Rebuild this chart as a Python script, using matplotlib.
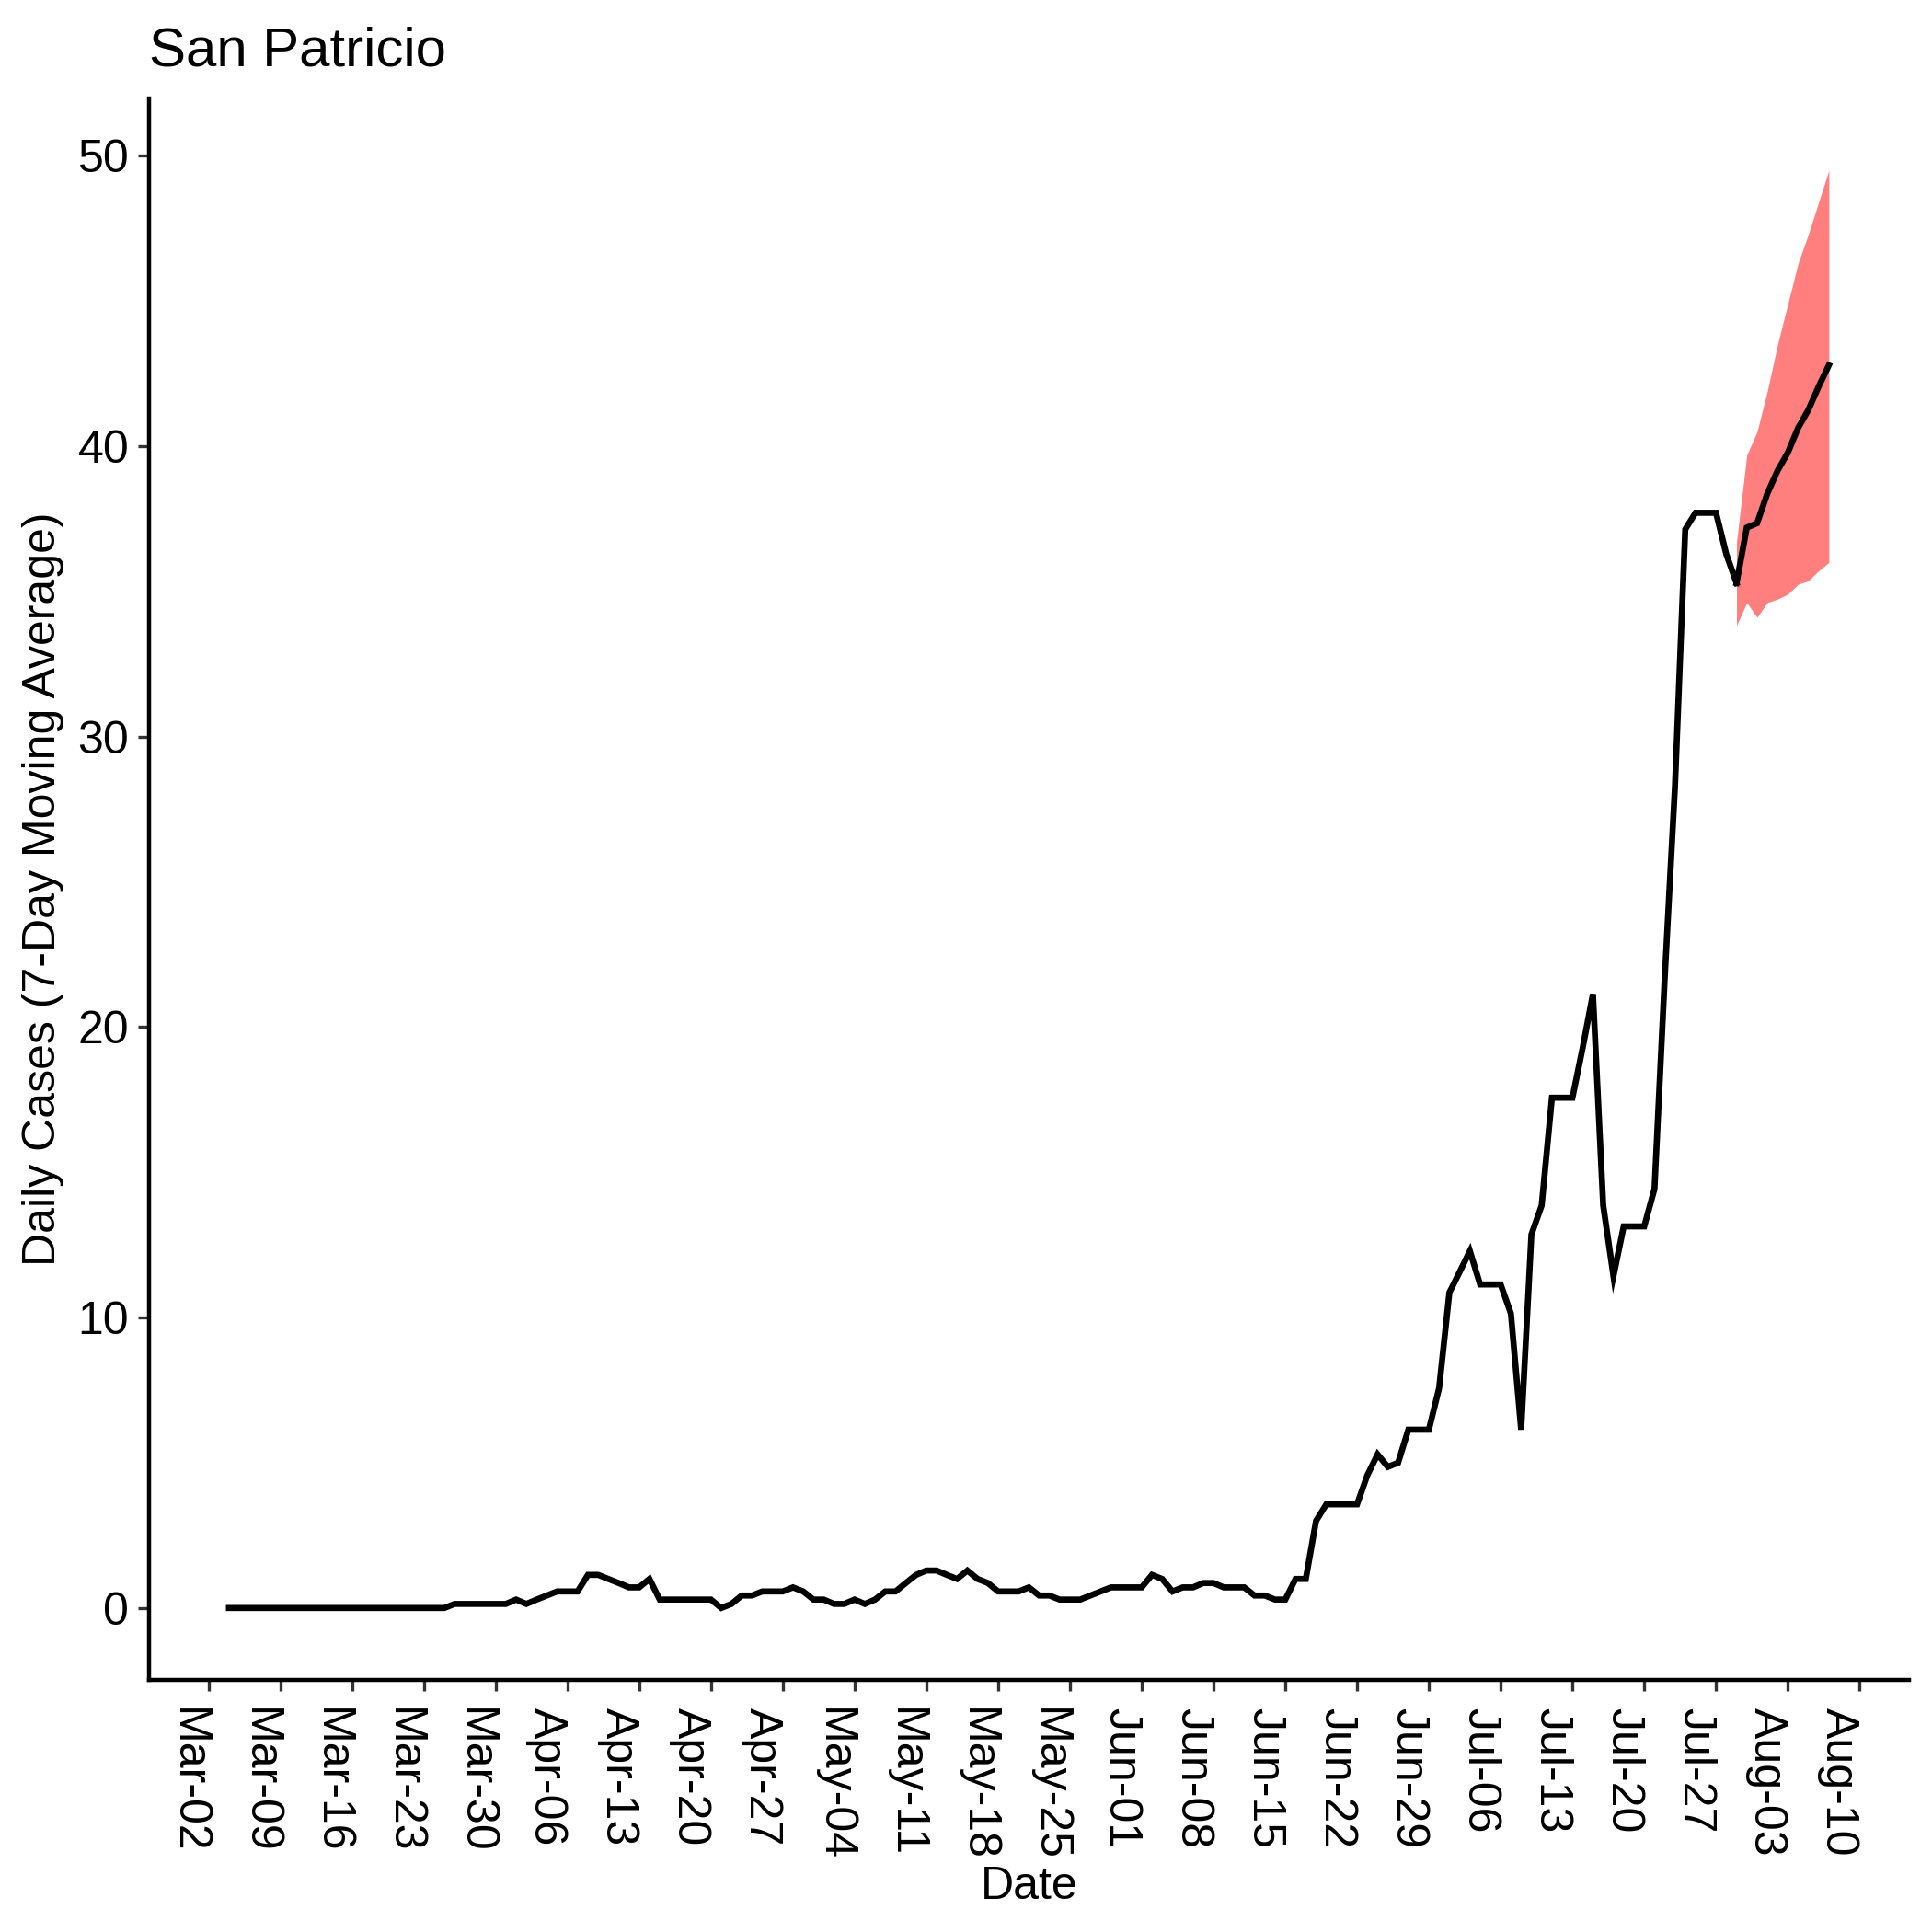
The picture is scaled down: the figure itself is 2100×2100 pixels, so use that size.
import matplotlib
matplotlib.use('Agg')
import matplotlib.pyplot as plt
import matplotlib.dates as mdates
import pandas as pd

plt.rcParams['font.family'] = ['Liberation Sans', 'DejaVu Sans']

# casos diarios (media movel de 7 dias), a partir de 04-mar
cases = [0, 0, 0, 0, 0, 0, 0, 0, 0, 0, 0, 0, 0, 0, 0, 0, 0, 0, 0, 0, 0, 0,
         0.14, 0.14, 0.14, 0.14, 0.14, 0.14, 0.29, 0.14, 0.29, 0.43,
         0.57, 0.57, 0.57, 1.14, 1.14, 1.0, 0.86, 0.71, 0.71, 1.0,
         0.29, 0.29, 0.29, 0.29, 0.29, 0.29, 0.0, 0.14, 0.43, 0.43,
         0.57, 0.57, 0.57, 0.71, 0.57, 0.29, 0.29, 0.14, 0.14, 0.29,
         0.14, 0.29, 0.57, 0.57, 0.86, 1.14, 1.29, 1.29, 1.14, 1.0,
         1.29, 1.0, 0.86, 0.57, 0.57, 0.57, 0.71, 0.43, 0.43, 0.29,
         0.29, 0.29, 0.43, 0.57, 0.71, 0.71, 0.71, 0.71, 1.14, 1.0,
         0.57, 0.71, 0.71, 0.86, 0.86, 0.71, 0.71, 0.71, 0.43, 0.43,
         0.29, 0.29, 1.0, 1.0, 3.0, 3.57, 3.57, 3.57, 3.57, 4.57,
         5.29, 4.86, 5.0, 6.14, 6.14, 6.14, 7.57, 10.86, 11.57, 12.29,
         11.14, 11.14, 11.14, 10.14, 6.14, 12.86, 13.86, 17.57, 17.57, 17.57,
         19.29, 21.14, 13.86, 11.43, 13.14, 13.14, 13.14, 14.43, 21.7, 28.3,
         37.14, 37.71, 37.71, 37.71, 36.29, 35.29]

# previsao a partir de 29-jul
fc_mean = [35.29, 37.2, 37.35, 38.37, 39.16, 39.78, 40.63, 41.25, 42.05, 42.79]
fc_low = [33.83, 34.62, 34.11, 34.62, 34.74, 34.91, 35.25, 35.37, 35.71, 36.0]
fc_high = [36.7, 39.7, 40.5, 41.9, 43.5, 44.9, 46.3, 47.3, 48.4, 49.5]

dates = pd.date_range('2020-03-04', periods=len(cases), freq='D')
fc_dates = pd.date_range(dates[-1], periods=len(fc_mean), freq='D')
tick_dates = pd.date_range('2020-03-02', '2020-08-10', freq='7D')

fig = plt.figure(figsize=(7, 7), dpi=300)
ax = fig.add_axes([0.0771, 0.1305, 0.9109, 0.8185])

ax.fill_between(fc_dates, fc_low, fc_high, color='#FF7F7F', linewidth=0)
ax.plot(dates, cases, color='black', linewidth=1.6, solid_joinstyle='miter')
ax.plot(fc_dates, fc_mean, color='black', linewidth=1.6, solid_joinstyle='miter')

# expansao de 5% como no ggplot
x0 = mdates.date2num(dates[0])
x1 = mdates.date2num(fc_dates[-1])
ax.set_xlim(x0 - 0.05 * (x1 - x0), x1 + 0.05 * (x1 - x0))
y0 = min(min(cases), min(fc_low))
y1 = max(max(cases), max(fc_high))
ax.set_ylim(y0 - 0.05 * (y1 - y0), y1 + 0.05 * (y1 - y0))

ax.set_xticks(tick_dates)
ax.set_xticklabels([d.strftime('%b-%d') for d in tick_dates],
                   rotation=270, ha='right', va='top', rotation_mode='default')
ax.set_yticks([0, 10, 20, 30, 40, 50])

for s in ['top', 'right']:
    ax.spines[s].set_visible(False)
for s in ['left', 'bottom']:
    ax.spines[s].set_linewidth(1.07)
    ax.spines[s].set_color('black')

ax.tick_params(axis='both', length=2.8, width=0.8, color='#333333',
               labelsize=12, labelcolor='black')
ax.tick_params(axis='x', pad=4.5)
ax.tick_params(axis='y', pad=2.4)

ax.set_xlabel('Date', fontsize=12, labelpad=1.2)
ax.set_ylabel('Daily Cases (7-Day Moving Average)', fontsize=12, labelpad=3.5)
ax.set_title('San Patricio', loc='left', fontsize=14.4, pad=8.5)

fig.savefig('out.png', dpi=300, facecolor='white')
